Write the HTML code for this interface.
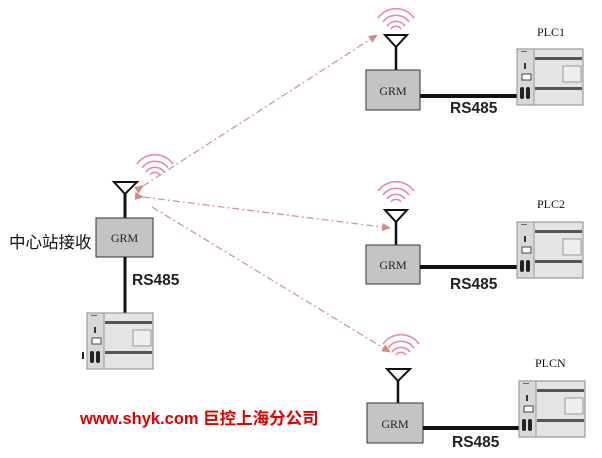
<!DOCTYPE html>
<html><head><meta charset="utf-8"><style>
html,body{margin:0;padding:0;background:#fff;width:602px;height:458px;overflow:hidden}
svg{display:block}
.grm{font-family:"Liberation Serif",serif;font-size:12px;fill:#222}
.rs{font-family:"Liberation Sans",sans-serif;font-size:15.5px;font-weight:bold;fill:#222}
.plc{font-family:"Liberation Serif",serif;font-size:12px;fill:#111}
</style></head><body>
<svg width="602" height="458" viewBox="0 0 602 458" xmlns="http://www.w3.org/2000/svg">
<defs>
<g id="plc">
<rect x="0" y="0" width="66" height="56" fill="#e4e4e4" stroke="#888" stroke-width="1"/>
<rect x="1" y="1" width="16" height="54" fill="#d8d8d8"/>
<line x1="17" y1="0" x2="17" y2="56" stroke="#999"/>
<rect x="18" y="8" width="47" height="3" fill="#555"/>
<rect x="18" y="38" width="47" height="3" fill="#555"/>
<rect x="46" y="17" width="18" height="16" fill="#eee" stroke="#999"/>
<rect x="7" y="14" width="2" height="6" fill="#333"/>
<rect x="5" y="25" width="9" height="6" fill="#fff" stroke="#444"/>
<rect x="3" y="38" width="4" height="12" rx="2" fill="#222"/>
<rect x="9" y="38" width="4" height="12" rx="2" fill="#222"/>
<rect x="4" y="2" width="6" height="1" fill="#666"/>
</g>
<g id="wave" fill="none" stroke="#e88aa5" stroke-width="1.6">
<path d="M-18,-6 A22,22 0 0 1 18,-6"/>
<path d="M-13,-2 A16,16 0 0 1 13,-2"/>
<path d="M-9,2 A11,11 0 0 1 9,2"/>
<path d="M-5,5 A6,6 0 0 1 5,5"/>
</g>
<marker id="ah" markerWidth="10" markerHeight="10" refX="8" refY="5" orient="auto" markerUnits="userSpaceOnUse">
<path d="M0,1 L9,5 L0,9 z" fill="#d08a8a"/>
</marker>
</defs>

<g stroke="#d09a9a" stroke-width="1.3" stroke-dasharray="7,3,2,3" fill="none">
<line x1="143" y1="186" x2="377" y2="35" marker-start="url(#ah)" marker-end="url(#ah)"/>
<line x1="143" y1="197" x2="390" y2="228" marker-start="url(#ah)" marker-end="url(#ah)"/>
<line x1="152" y1="207" x2="390" y2="352" marker-end="url(#ah)"/>
</g>

<use href="#wave" x="155" y="170"/>
<path d="M114,182 L137,182 L125,194 z" fill="none" stroke="#111" stroke-width="2"/>
<line x1="125" y1="194" x2="125" y2="218" stroke="#111" stroke-width="3"/>
<rect x="96" y="218" width="57" height="39" fill="#c4c4c4" stroke="#333"/>
<text x="124.5" y="242" class="grm" text-anchor="middle">GRM</text>
<line x1="125" y1="257" x2="125" y2="314" stroke="#111" stroke-width="3"/>
<text x="132" y="285" class="rs">RS485</text>
<text x="9" y="248" font-family="'Liberation Sans','Noto Sans CJK SC',sans-serif" font-size="16.5" fill="#111">中心站接收</text>
<use href="#plc" x="87" y="313"/>
<rect x="82" y="352" width="2" height="7" fill="#222"/>

<use href="#wave" x="396" y="24"/>
<path d="M385,35 L407,35 L396,47 z" fill="none" stroke="#111" stroke-width="2"/>
<line x1="396" y1="47" x2="396" y2="70" stroke="#111" stroke-width="2.5"/>
<rect x="366" y="70" width="54" height="40" fill="#c4c4c4" stroke="#333"/>
<text x="393" y="95" class="grm" text-anchor="middle">GRM</text>
<line x1="420" y1="96" x2="520" y2="96" stroke="#111" stroke-width="4"/>
<text x="450" y="113" class="rs">RS485</text>
<use href="#plc" x="517" y="49"/>
<text x="537" y="36" class="plc">PLC1</text>

<use href="#wave" x="396" y="197"/>
<path d="M385,210 L407,210 L396,222 z" fill="none" stroke="#111" stroke-width="2"/>
<line x1="396" y1="222" x2="396" y2="245" stroke="#111" stroke-width="2.5"/>
<rect x="366" y="245" width="54" height="39" fill="#c4c4c4" stroke="#333"/>
<text x="393" y="269" class="grm" text-anchor="middle">GRM</text>
<line x1="420" y1="267" x2="520" y2="267" stroke="#111" stroke-width="4"/>
<text x="450" y="289" class="rs">RS485</text>
<use href="#plc" x="517" y="222"/>
<text x="537" y="208" class="plc">PLC2</text>

<use href="#wave" x="401" y="350"/>
<path d="M387,369 L410,369 L398,381 z" fill="none" stroke="#111" stroke-width="2"/>
<line x1="398" y1="381" x2="398" y2="403" stroke="#111" stroke-width="2.5"/>
<rect x="367" y="403" width="56" height="40" fill="#c4c4c4" stroke="#333"/>
<text x="395" y="428" class="grm" text-anchor="middle">GRM</text>
<line x1="423" y1="428" x2="522" y2="428" stroke="#111" stroke-width="4"/>
<text x="452" y="447" class="rs">RS485</text>
<use href="#plc" x="519" y="381"/>
<text x="535" y="367" class="plc">PLCN</text>

<text x="80" y="424" font-family="'Liberation Sans','Noto Sans CJK SC',sans-serif" font-size="16.5" font-weight="bold" fill="#e00000">www.shyk.com 巨控上海分公司</text>
</svg>
</body></html>
